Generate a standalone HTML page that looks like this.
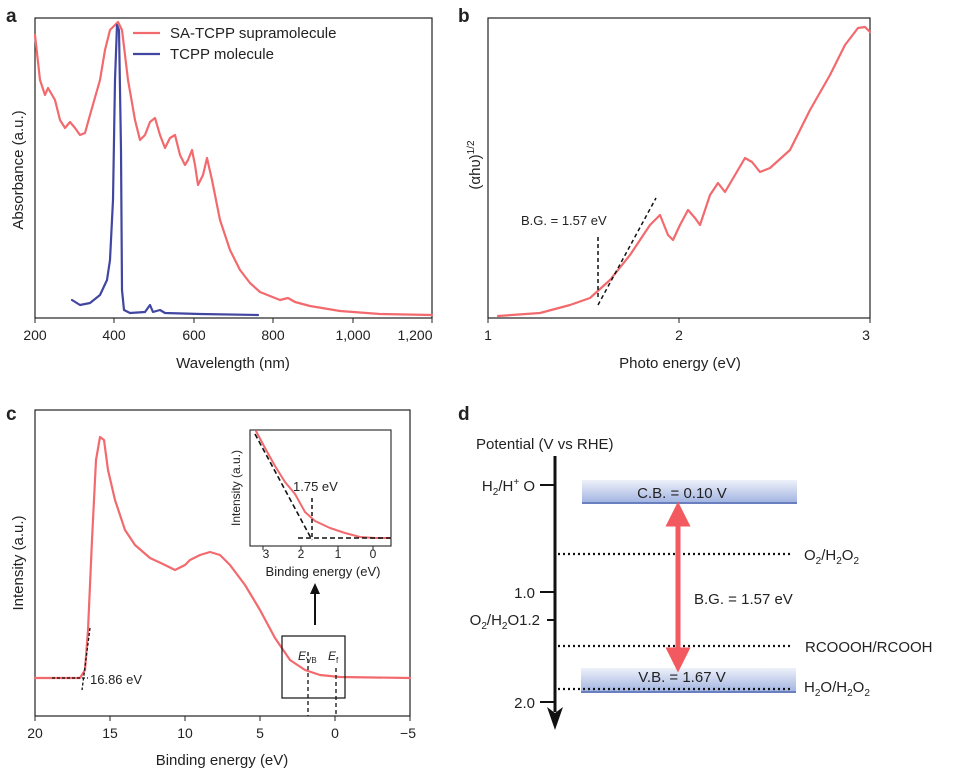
<!DOCTYPE html>
<html><head><meta charset="utf-8"><style>body{margin:0;background:#fff}svg{display:block;font-family:"Liberation Sans",sans-serif}polyline{stroke-linejoin:round;stroke-linecap:round}</style></head><body>
<svg width="961" height="775" viewBox="0 0 961 775">
<defs>
<linearGradient id="bg" x1="0" y1="0" x2="0" y2="1"><stop offset="0" stop-color="#eef1fa"/><stop offset="1" stop-color="#9db0df"/></linearGradient>
<marker id="ah" viewBox="0 0 10 10" refX="5" refY="5" markerWidth="5" markerHeight="5" orient="auto-start-reverse"><path d="M0,0L10,5L0,10z" fill="#f25a5f"/></marker>
</defs>
<g font-size="15" fill="#222">
<text x="6" y="22" font-weight="bold" font-size="19">a</text>
<rect x="35" y="18" width="397" height="300" fill="none" stroke="#222" stroke-width="1.2"/>
<g stroke="#222"><line x1="35" y1="318" x2="35" y2="323"/><line x1="114" y1="318" x2="114" y2="323"/><line x1="194" y1="318" x2="194" y2="323"/><line x1="273" y1="318" x2="273" y2="323"/><line x1="353" y1="318" x2="353" y2="323"/><line x1="432" y1="318" x2="432" y2="323"/></g>
<g text-anchor="middle" font-size="14"><text x="35" y="340">200</text><text x="114" y="340">400</text><text x="194" y="340">600</text><text x="273" y="340">800</text><text x="353" y="340">1,000</text><text x="415" y="340">1,200</text></g>
<text x="233" y="368" text-anchor="middle">Wavelength (nm)</text>
<text transform="translate(23,170) rotate(-90)" text-anchor="middle">Absorbance (a.u.)</text>
<polyline fill="none" stroke="#f26a6e" stroke-width="2.2" points="35,35 40,80 45,95 48,88 55,100 60,120 65,128 70,122 75,128 80,135 85,133 90,115 100,80 105,50 110,30 118,22 122,30 128,80 135,120 140,140 145,135 150,122 155,118 160,135 165,148 170,138 175,135 180,155 185,165 188,160 192,150 195,165 198,185 203,175 207,158 212,180 220,220 230,250 240,270 250,283 260,292 270,296 280,300 288,298 295,302 310,306 340,311 380,314 432,315"/>
<polyline fill="none" stroke="#4146a0" stroke-width="2.2" points="72,300 80,305 90,303 100,295 107,280 110,260 113,200 115,80 117,25 119,30 121,150 122,290 124,310 130,313 145,312 150,305 153,312 160,310 165,313 200,314 258,315"/>
<line x1="133" y1="33" x2="160" y2="33" stroke="#f26a6e" stroke-width="2.2"/><text x="170" y="38">SA-TCPP supramolecule</text>
<line x1="133" y1="54" x2="160" y2="54" stroke="#4146a0" stroke-width="2.2"/><text x="170" y="59">TCPP molecule</text>
<text x="458" y="22" font-weight="bold" font-size="19">b</text>
<rect x="488" y="18" width="382" height="300" fill="none" stroke="#222" stroke-width="1.2"/>
<g stroke="#222"><line x1="488" y1="318" x2="488" y2="323"/><line x1="679" y1="318" x2="679" y2="323"/><line x1="870" y1="318" x2="870" y2="323"/></g>
<g text-anchor="middle" font-size="14"><text x="488" y="340">1</text><text x="679" y="340">2</text><text x="866" y="340">3</text></g>
<text x="680" y="368" text-anchor="middle">Photo energy (eV)</text>
<text transform="translate(480,165) rotate(-90)" text-anchor="middle">(αhυ)<tspan font-size="10" dy="-6">1/2</tspan></text>
<polyline fill="none" stroke="#f26a6e" stroke-width="2.2" points="498,316 540,313 570,305 590,298 610,280 630,255 650,225 660,215 668,235 673,240 680,225 688,210 695,218 700,225 710,195 718,183 725,192 735,175 745,158 752,162 760,172 770,168 790,150 810,110 830,75 845,45 858,28 865,27 870,32"/>
<line x1="598" y1="237" x2="598" y2="300" stroke="#111" stroke-width="1.5" stroke-dasharray="4,3"/>
<line x1="598" y1="305" x2="656" y2="198" stroke="#111" stroke-width="1.5" stroke-dasharray="4,3"/>
<text x="521" y="225" font-size="13">B.G. = 1.57 eV</text>
<text x="6" y="420" font-weight="bold" font-size="19">c</text>
<rect x="35" y="410" width="375" height="306" fill="none" stroke="#222" stroke-width="1.2"/>
<g stroke="#222"><line x1="35" y1="716" x2="35" y2="721"/><line x1="110" y1="716" x2="110" y2="721"/><line x1="185" y1="716" x2="185" y2="721"/><line x1="260" y1="716" x2="260" y2="721"/><line x1="335" y1="716" x2="335" y2="721"/><line x1="410" y1="716" x2="410" y2="721"/></g>
<g text-anchor="middle" font-size="14"><text x="35" y="738">20</text><text x="110" y="738">15</text><text x="185" y="738">10</text><text x="260" y="738">5</text><text x="335" y="738">0</text><text x="408" y="738">−5</text></g>
<text x="222" y="765" text-anchor="middle">Binding energy (eV)</text>
<text transform="translate(23,563) rotate(-90)" text-anchor="middle">Intensity (a.u.)</text>
<polyline fill="none" stroke="#f26a6e" stroke-width="2.2" points="35,678 80,678 85,670 88,630 92,540 96,460 100,437 104,440 108,470 115,500 125,530 135,545 150,558 165,565 175,570 185,565 190,560 200,555 210,552 220,555 230,565 245,585 260,610 275,638 290,660 305,670 320,675 340,677 410,678"/>
<line x1="90" y1="628" x2="82" y2="690" stroke="#111" stroke-width="1.3" stroke-dasharray="3,2"/>
<line x1="52" y1="678" x2="88" y2="678" stroke="#111" stroke-width="1.3" stroke-dasharray="3,2"/>
<text x="90" y="684" font-size="13">16.86 eV</text>
<rect x="282" y="636" width="63" height="62" fill="none" stroke="#111" stroke-width="1.2"/>
<line x1="308" y1="652" x2="308" y2="716" stroke="#111" stroke-width="1.3" stroke-dasharray="4,3"/>
<line x1="336" y1="668" x2="336" y2="716" stroke="#111" stroke-width="1.3" stroke-dasharray="4,3"/>
<text x="298" y="660" font-size="12" font-style="italic">E<tspan font-size="8" font-style="normal" dy="3">VB</tspan></text>
<text x="328" y="660" font-size="12" font-style="italic">E<tspan font-size="8" font-style="normal" dy="3">f</tspan></text>
<line x1="315" y1="625" x2="315" y2="592" stroke="#111" stroke-width="2"/><path d="M310,594L315,583L320,594z" fill="#111"/>
<rect x="250" y="430" width="141" height="116" fill="none" stroke="#222" stroke-width="1.1"/>
<g stroke="#222"><line x1="263" y1="546" x2="263" y2="550"/><line x1="301" y1="546" x2="301" y2="550"/><line x1="338" y1="546" x2="338" y2="550"/><line x1="373" y1="546" x2="373" y2="550"/></g>
<g text-anchor="middle" font-size="12"><text x="266" y="558">3</text><text x="301" y="558">2</text><text x="338" y="558">1</text><text x="373" y="558">0</text></g>
<text x="323" y="576" text-anchor="middle" font-size="13">Binding energy (eV)</text>
<text transform="translate(240,488) rotate(-90)" text-anchor="middle" font-size="12">Intensity (a.u.)</text>
<polyline fill="none" stroke="#f26a6e" stroke-width="2" points="256,431 265,448 275,466 285,482 295,494 305,512 315,521 330,528 345,533 360,537 375,538 391,538"/>
<line x1="255" y1="434" x2="312" y2="540" stroke="#111" stroke-width="1.6" stroke-dasharray="5,3"/>
<line x1="298" y1="538" x2="391" y2="538" stroke="#111" stroke-width="1.6" stroke-dasharray="5,3"/>
<line x1="312" y1="498" x2="312" y2="540" stroke="#111" stroke-width="1.5" stroke-dasharray="4,3"/>
<text x="293" y="491" font-size="13">1.75 eV</text>
<text x="458" y="420" font-weight="bold" font-size="19">d</text>
<text x="476" y="449">Potential (V vs RHE)</text>
<line x1="555" y1="456" x2="555" y2="712" stroke="#111" stroke-width="3"/>
<path d="M547,707L555,730L563,707L555,713z" fill="#111"/>
<g stroke="#111" stroke-width="2"><line x1="540" y1="485" x2="555" y2="485"/><line x1="540" y1="592" x2="555" y2="592"/><line x1="547" y1="620" x2="555" y2="620"/><line x1="540" y1="702" x2="555" y2="702"/></g>
<text x="535" y="491" text-anchor="end">H<tspan font-size="10" dy="4">2</tspan><tspan dy="-4">/H</tspan><tspan font-size="10" dy="-6">+</tspan><tspan dy="6"> O</tspan></text>
<text x="535" y="598" text-anchor="end">1.0</text>
<text x="540" y="625" text-anchor="end">O<tspan font-size="10" dy="4">2</tspan><tspan dy="-4">/H</tspan><tspan font-size="10" dy="4">2</tspan><tspan dy="-4">O1.2</tspan></text>
<text x="535" y="708" text-anchor="end">2.0</text>
<rect x="582" y="480" width="215" height="24" fill="url(#bg)"/><line x1="582" y1="503" x2="797" y2="503" stroke="#6a7fbf" stroke-width="2"/>
<text x="682" y="498" text-anchor="middle">C.B. = 0.10 V</text>
<rect x="581" y="668" width="215" height="25" fill="url(#bg)"/><line x1="581" y1="692" x2="796" y2="692" stroke="#6a7fbf" stroke-width="2"/>
<text x="682" y="682" text-anchor="middle">V.B. = 1.67 V</text>
<g stroke="#111" stroke-width="2.2" stroke-dasharray="2,3"><line x1="558" y1="554" x2="793" y2="554"/><line x1="558" y1="646" x2="793" y2="646"/><line x1="558" y1="689" x2="793" y2="689"/></g>
<line x1="678" y1="514" x2="678" y2="660" stroke="#f25a5f" stroke-width="5" marker-start="url(#ah)" marker-end="url(#ah)"/>
<text x="694" y="604">B.G. = 1.57 eV</text>
<text x="804" y="560">O<tspan font-size="10" dy="4">2</tspan><tspan dy="-4">/H</tspan><tspan font-size="10" dy="4">2</tspan><tspan dy="-4">O</tspan><tspan font-size="10" dy="4">2</tspan></text>
<text x="805" y="652">RCOOOH/RCOOH</text>
<text x="804" y="692">H<tspan font-size="10" dy="4">2</tspan><tspan dy="-4">O/H</tspan><tspan font-size="10" dy="4">2</tspan><tspan dy="-4">O</tspan><tspan font-size="10" dy="4">2</tspan></text>
</g>
</svg>
</body></html>
